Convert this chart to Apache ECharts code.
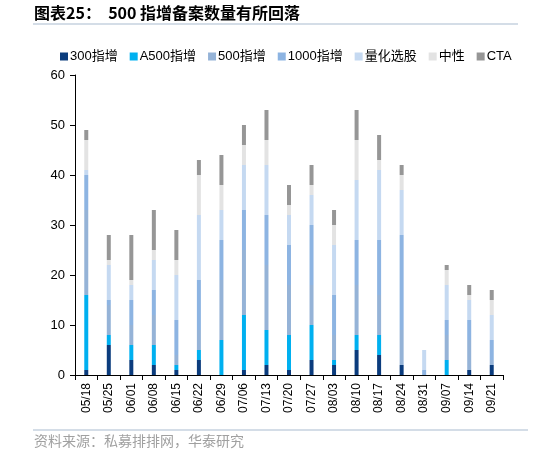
<!DOCTYPE html>
<html>
<head>
<meta charset="utf-8">
<script src="https://cdn.jsdelivr.net/npm/echarts@6/dist/echarts.min.js"></script>
<style>html,body{margin:0;padding:0;background:#fff;}#c{width:534px;height:454px;}</style>
</head>
<body>
<div id="c"></div>
<script>
var categories = ['05/18','05/25','06/01','06/08','06/15','06/22','06/29','07/06','07/13','07/20','07/27','08/03','08/10','08/17','08/24','08/31','09/07','09/14','09/21'];
var s300  = [1,6,3,2,1,3,0,1,2,1,3,2,5,4,2,0,0,1,2];
var a500  = [15,2,3,4,1,2,7,11,7,7,7,1,3,4,0,0,3,0,0];
var s500  = [17,6,4,6,2,4,12,13,13,10,8,5,10,8,7,0,5,6,1];
var s1000 = [7,1,5,5,7,10,8,8,10,8,12,8,9,11,19,1,3,4,4];
var quant = [1,7,3,6,9,13,6,9,10,6,6,10,12,14,9,4,7,4,5];
var neutral = [6,1,1,2,3,8,5,4,5,2,2,4,8,2,3,0,3,1,3];
var cta   = [2,5,9,8,6,3,6,4,6,4,4,3,6,5,2,0,1,2,2];
var yTicks = [0,10,20,30,40,50,60];

var names = ['300指增','A500指增','500指增','1000指增','量化选股','中性','CTA'];
var colors = ['#0B3C7D','#00B0F0','#95B3D7','#8DB4E2','#C5D9F1','#E3E3E3','#969696'];
var datas = [s300,a500,s500,s1000,quant,neutral,cta];
var FONT = '"Liberation Sans", Arial, "Noto Sans CJK SC", sans-serif';

var series = names.map(function(n,i){
  return {name:n,type:'bar',stack:'total',barWidth:4,data:datas[i],
    itemStyle:{color:colors[i]},emphasis:{disabled:true}};
});

var chart = echarts.init(document.getElementById('c'));
chart.setOption({
  animation:false,
  textStyle:{fontFamily:FONT},
  legend:{
    data:names, left:55, top:45, itemWidth:8, itemHeight:8, itemGap:12,
    icon:'rect', textStyle:{fontSize:13,color:'#000',fontFamily:FONT,padding:[0,0,0,-3]}
  },
  grid:{left:75,right:31,top:75,bottom:79,containLabel:false},
  xAxis:{
    type:'category',data:categories,
    axisLine:{lineStyle:{color:'#000',width:1}},
    axisTick:{show:true,length:5,lineStyle:{color:'#000'}},
    axisLabel:{rotate:90,fontSize:12,color:'#000',margin:8,fontFamily:FONT}
  },
  yAxis:{
    type:'value',min:0,max:60,interval:10,
    axisLine:{show:true,lineStyle:{color:'#000',width:1}},
    axisTick:{show:true,length:5,lineStyle:{color:'#000'}},
    splitLine:{show:false},
    axisLabel:{fontSize:13,color:'#000',margin:10,fontFamily:FONT,
      formatter:function(v){return yTicks.indexOf(v)>=0?String(v):'';}}
  },
  series:series,
  graphic:[
    {type:'text',left:34,top:5,style:{text:'图表25：  500 指增备案数量有所回落',fill:'#000',font:'bold 16px "Noto Sans CJK SC", sans-serif'}},
    {type:'line',shape:{x1:33,y1:24,x2:518,y2:24},style:{stroke:'#A9BCD0',lineWidth:1.2}},
    {type:'line',shape:{x1:33,y1:430,x2:528,y2:430},style:{stroke:'#A9BCD0',lineWidth:1.2}},
    {type:'text',left:34,top:434,style:{text:'资料来源：私募排排网，华泰研究',fill:'#A0A0A0',font:'14px "Noto Sans CJK SC", sans-serif'}}
  ]
});
</script>
</body>
</html>
